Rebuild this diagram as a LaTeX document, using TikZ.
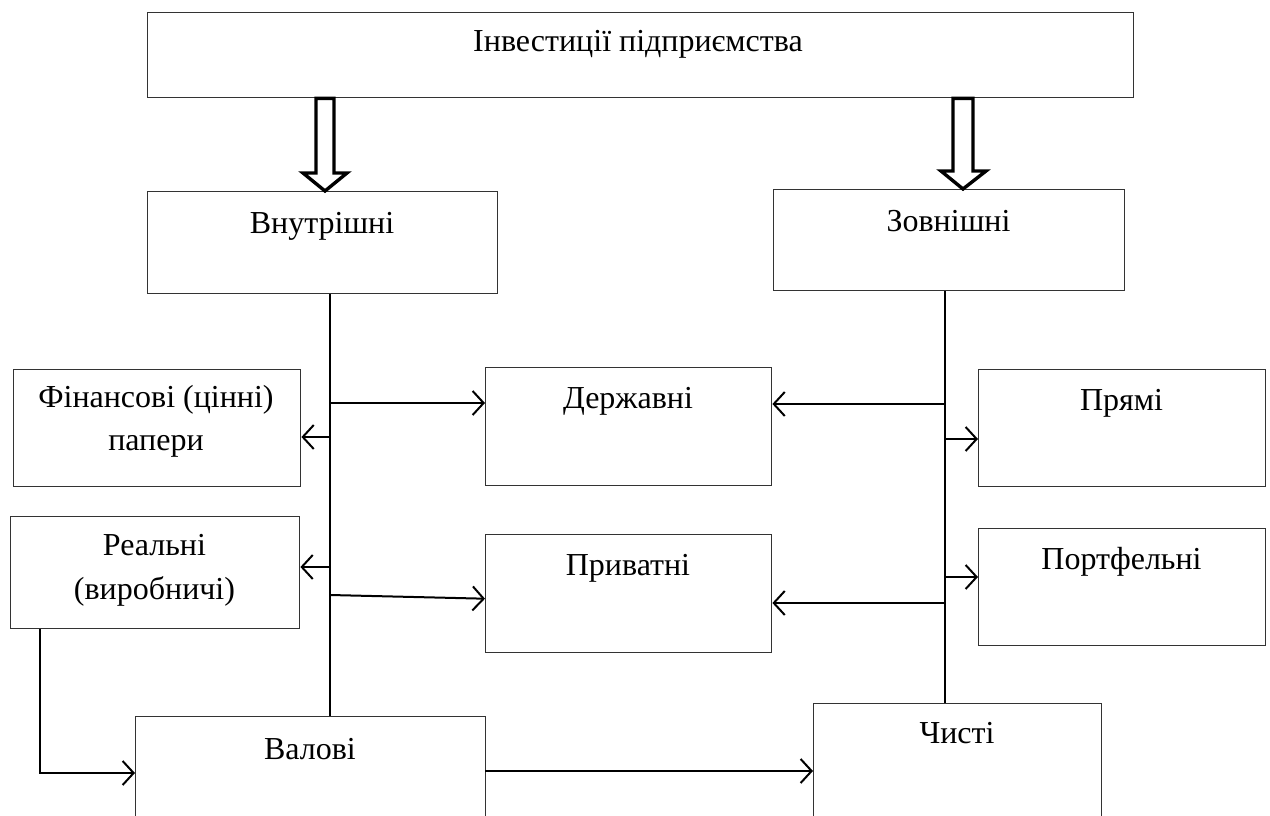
\documentclass[tikz,border=0pt]{standalone}
\usepackage{fontspec}
\setmainfont{Liberation Serif}
\usetikzlibrary{arrows.meta,calc}
\begin{document}
\begin{tikzpicture}[x=1pt,y=-1pt,
 box/.style={draw=black!80,line width=1.4pt,inner sep=0pt,anchor=north west},
 lbl/.style={font=\fontsize{32}{38}\selectfont,anchor=base,inner sep=0pt},
 conn/.style={line width=2pt,black},
 arr/.style={conn,-{Straight Barb[length=11pt,width=24pt,line width=2pt]}},
 hollow/.style={draw=black,line width=3.4pt,fill=white,line join=miter}]
\clip (0,0) rectangle (1270,816);
% boxes
\node[box,minimum width=986,minimum height=85] (top) at (147,12) {};
\node[box,minimum width=350,minimum height=102] (vin) at (147,191) {};
\node[box,minimum width=351,minimum height=101] (zov) at (773,189) {};
\node[box,minimum width=287,minimum height=117] (fin) at (13,369) {};
\node[box,minimum width=289,minimum height=112] (real) at (10,516) {};
\node[box,minimum width=286,minimum height=118] (der) at (485,367) {};
\node[box,minimum width=286,minimum height=118] (priv) at (485,534) {};
\node[box,minimum width=287,minimum height=117] (pr) at (978,369) {};
\node[box,minimum width=287,minimum height=117] (port) at (978,528) {};
\node[box,minimum width=350,minimum height=130] (val) at (135,716) {};
\node[box,minimum width=288,minimum height=130] (chy) at (813,703) {};
% labels
\node[lbl] (ttop) at (638,52) {Інвестиції підприємства};
\node[lbl] (tvin) at (322,233) {Внутрішні};
\node[lbl] (tzov) at (948.5,231) {Зовнішні};
\node[lbl] (tfin1) at (156,407) {Фінансові (цінні)};
\node[lbl] (tfin2) at (156,450) {папери};
\node[lbl] (treal1) at (154.5,555) {Реальні};
\node[lbl] (treal2) at (154.5,599) {(виробничі)};
\node[lbl] (tder) at (628,408) {Державні};
\node[lbl] (tpriv) at (628,575) {Приватні};
\node[lbl] (tpr) at (1121.5,410) {Прямі};
\node[lbl] (tport) at (1121.5,569) {Портфельні};
\node[lbl] (tval) at (310,759) {Валові};
\node[lbl] (tchy) at (957,743) {Чисті};
% hollow arrows
\draw[hollow] (top.south -| 316,0) -- (316,173) -- (303,173) -- (vin.north -| 325,0) -- (347,173) -- (334,173) -- (top.south -| 334,0) -- cycle;
\draw[hollow] (top.south -| 953,0) -- (953,171) -- (941,171) -- (zov.north -| 963,0) -- (986,171) -- (973,171) -- (top.south -| 973,0) -- cycle;
% trunks
\coordinate (tl) at (330,0);
\coordinate (tr) at (945,0);
\draw[conn] (vin.south -| tl) -- (val.north -| tl);
\draw[conn] (zov.south -| tr) -- (chy.north -| tr);
% left trunk arrows
\coordinate (p1) at (330,403);
\coordinate (p2) at (330,437);
\coordinate (p3) at (330,567);
\coordinate (p4) at (330,595);
\draw[arr] (p1) -- (p1 -| der.west);
\draw[arr] (p2) -- (p2 -| fin.east);
\draw[arr] (p3) -- (p3 -| real.east);
\draw[arr] (p4) -- ($(priv.west)+(0,5)$);
% right trunk arrows
\coordinate (q1) at (945,404);
\coordinate (q2) at (945,439);
\coordinate (q3) at (945,577);
\coordinate (q4) at (945,603);
\draw[arr] (q1) -- (q1 -| der.east);
\draw[arr] (q2) -- (q2 -| pr.west);
\draw[arr] (q3) -- (q3 -| port.west);
\draw[arr] (q4) -- (q4 -| priv.east);
% bottom arrows
\coordinate (r1) at (40,773);
\draw[arr] (real.south -| r1) -- (r1) -- (r1 -| val.west);
\coordinate (s1) at (485,771);
\draw[arr] (s1) -- (s1 -| chy.west);
\end{tikzpicture}
\end{document}
